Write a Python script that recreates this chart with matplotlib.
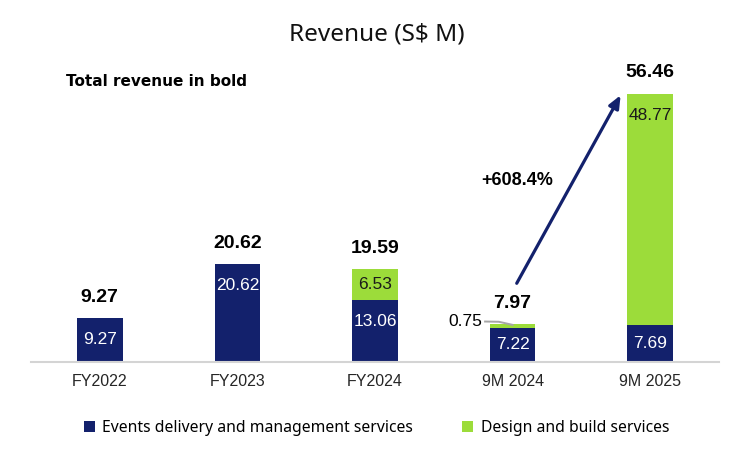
import matplotlib.pyplot as plt
import numpy as np

# ================ DATA ===================
categories = ['FY2022', 'FY2023', 'FY2024', '9M 2024', '9M 2025']
events = [9.27, 20.62, 13.06, 7.22, 7.69]
design = [0.0, 0.0, 6.53, 0.75, 48.77]
totals = [9.27, 20.62, 19.59, 7.97, 56.46]
growth_label = '+608.4%'

# ================ STYLE ===================
navy, green = '#13216C', '#9CDC3A'
NUM_FONT = 'Liberation Sans'
TXT_FONT = 'Noto Sans'
PX_PER_UNIT = 4.75

fig = plt.figure(figsize=(7.53, 4.58), dpi=100)
ax = fig.add_axes([31/753, 1-362/458, 688/753, 312/458])

x = np.arange(len(categories))
width = 0.33
ax.bar(x, events, width, color=navy, label='Events delivery and management services')
ax.bar(x, design, width, bottom=events, color=green, label='Design and build services')

for i in x:
    e, d, t = events[i], design[i], totals[i]
    ax.text(i, e - min(4.5, e/2), '%.2f' % e, ha='center', va='center', color='white',
            fontsize=12.5, family=NUM_FONT)
    if d > 2:
        ax.text(i, e + d - min(4.5, d/2), '%.2f' % d, ha='center', va='center', color='#1a1a1a',
                fontsize=12.5, family=NUM_FONT)
    elif d > 0:
        # small slice: label pulled out to the left with a leader line
        ax.text(i - width/2 - 0.055, e + 1.35, '%.2f' % d, ha='right', va='center', color='black',
                fontsize=12.5, family=NUM_FONT)
        ax.plot([i - width/2 - 0.035, i - 0.1, i], [e + 1.3, e + 1.25, e + 0.6],
                color='#A6A6A6', lw=1.4)
    ax.text(i, t + 4.4, '%.2f' % t, ha='center', va='center', color='black',
            fontsize=14, fontweight='bold', family=NUM_FONT)

ax.annotate('', xy=(x[4] - width/2 - 0.05, totals[4] - 0.3), xytext=(x[3] + 0.03, totals[3] + 8.6),
            arrowprops=dict(arrowstyle='-|>,head_length=0.75,head_width=0.32', color=navy,
                            lw=2.3, shrinkA=0, shrinkB=0))
ax.text(x[3] + 0.03, 38.3, growth_label, ha='center', va='center', fontsize=13,
        fontweight='bold', family=NUM_FONT)

ax.set_xlim(-0.5, 4.5)
ax.set_ylim(0, 312 / PX_PER_UNIT)
ax.set_xticks(x)
ax.set_xticklabels(categories, fontsize=11.5, color='#262626', family=NUM_FONT)
ax.tick_params(axis='x', length=0, pad=9)
ax.set_yticks([])
for s in ['top', 'right', 'left']:
    ax.spines[s].set_visible(False)
ax.spines['bottom'].set_color('#D4D4D4')
ax.spines['bottom'].set_linewidth(1.5)

fig.text(0.5, 1 - 34/458, 'Revenue (S$ M)', ha='center', va='center', fontsize=17.5,
         family=TXT_FONT, color='#111111')
fig.text(66/753, 1 - 82/458, 'Total revenue in bold', ha='left', va='center', fontsize=11,
         fontweight='bold', family='DejaVu Sans')

fig.legend(loc='center', bbox_to_anchor=(0.5, 1 - 428/458), ncol=2, frameon=False,
           prop={'family': TXT_FONT, 'size': 11.3}, handlelength=0.7, handleheight=0.7,
           columnspacing=3.1, handletextpad=0.5)

fig.savefig('out.png', dpi=100)
